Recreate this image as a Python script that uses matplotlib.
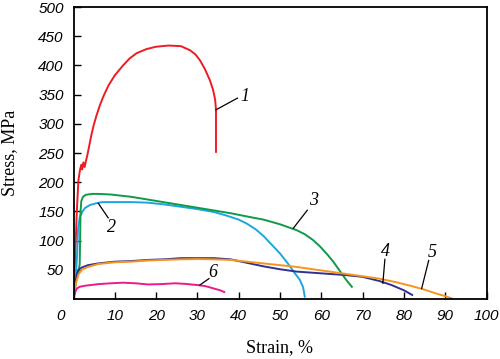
import matplotlib
matplotlib.use("Agg")
import matplotlib.pyplot as plt
import matplotlib.transforms as mtransforms

# curve data (strain %, stress MPa)
x1 = [0, 0.4, 0.8, 1.2, 1.6, 1.9, 2.1, 2.4, 2.7, 3.0, 3.4, 3.8, 4.3, 4.9, 5.6, 6.4, 7.3, 8.5, 10, 12, 13.6, 15.3, 17.7, 20, 23, 26, 28.2, 29.5, 30.6, 31.8, 33, 33.8, 34.3, 34.5, 34.5]
y1 = [0, 70, 150, 204, 222, 230, 222, 234, 226, 236, 248, 262, 280, 298, 315, 332, 348, 366, 383, 400, 412, 421, 428, 432, 434, 433, 426, 419, 409, 394, 375, 358, 341, 324, 252]

x2 = [0, 0.5, 0.9, 1.1, 1.5, 2.2, 2.8, 4, 5.5, 7, 10, 14, 18, 22, 26, 30, 34, 37, 40, 42, 44, 46, 48, 50, 52, 53.5, 54.8, 55.6, 56]
y2 = [0, 30, 80, 120, 140, 150, 156, 161, 164, 166, 166, 166, 165, 162, 158, 154, 149, 143, 136, 129, 120, 108, 93, 78, 60, 45, 33, 20, 4]

x3 = [0, 0.6, 1.2, 1.5, 1.6, 1.7, 1.9, 2.3, 3, 4.5, 6, 9, 14, 20, 26, 32, 38, 43, 46, 50, 52, 54, 56, 58, 59.7, 61.5, 63, 64.5, 66, 67.4]
y3 = [0, 30, 45, 60, 100, 150, 168, 175, 178.5, 180, 180, 179, 175, 168, 161, 154, 147, 140, 136, 128, 123, 118, 111, 101, 90, 76, 63, 48, 33, 21]

x4 = [0, 0.4, 0.8, 1.2, 2, 3.5, 6, 10, 14, 18, 22, 26, 30, 34, 38, 42, 46, 50, 54, 58, 62, 66, 70, 74, 77, 80, 82]
y4 = [0, 25, 42, 50, 54, 58, 61, 64, 65, 67, 68, 70, 70, 70, 68, 62, 56, 51, 47, 45, 43, 41, 38, 31, 24, 15, 7]

x5 = [0, 0.3, 0.7, 1.2, 2, 3.5, 6, 10, 14, 18, 22, 26, 30, 34, 38, 42, 46, 50, 54, 58, 62, 66, 70, 74, 78, 82, 85, 88, 90, 91.6]
y5 = [0, 15, 30, 42, 50, 55, 60, 63, 64, 66, 67, 68, 68.5, 68, 67, 64, 61, 58, 55, 51, 47, 43, 39, 35, 29, 22, 16, 9, 5, 1]

x6 = [0, 0.3, 0.8, 1.5, 3, 6, 9, 12, 15, 18, 21, 24.6, 27, 30, 32, 34, 35.5, 36.5]
y6 = [0, 10, 18, 21, 23, 25.5, 27, 28, 27, 25, 25.5, 27, 26, 24, 22, 18, 15, 12]

series = [(x1, y1, "#ed1c24"), (x2, y2, "#1ba6e1"), (x3, y3, "#10994a"),
          (x4, y4, "#2e3192"), (x5, y5, "#f7941d"), (x6, y6, "#ec1a8c")]

# curve labels: text, text position, leader start, leader end
labels = ["1", "2", "3", "4", "5", "6"]
label_pos = [(41.6, 347), (9.3, 122), (58.0, 168), (75.6, 82), (86.9, 80), (33.8, 45)]
leader_from = [(34.5, 324), (6.0, 164), (53.2, 121), (74.9, 27), (84.3, 18), (30.6, 24)]
leader_to = [(39.7, 344), (8.4, 139), (56.6, 152), (75.4, 68), (86.0, 66), (32.8, 35)]

xticks = list(range(0, 101, 10))
yticks = list(range(50, 501, 50))

fig = plt.figure(figsize=(5, 3.59), dpi=100)
ax = fig.add_axes([0.147, 0.167, 0.826, 0.8135])

for xs, ys, c in series:
    ax.plot(xs, ys, color=c, lw=1.4, solid_joinstyle="round")

for t, p, a, b in zip(labels, label_pos, leader_from, leader_to):
    ax.plot([a[0], b[0]], [a[1], b[1]], color="black", lw=0.9)
    ax.text(p[0], p[1], t, fontsize=13, family="Liberation Serif", style="italic",
            ha="center", va="center")

ax.set_xlim(0, 100)
ax.set_ylim(0, 500)
ax.set_xticks(xticks)
ax.set_yticks(yticks)
ax.set_xticklabels([str(v) for v in xticks], family="Liberation Sans", style="italic", fontsize=11)
ax.set_yticklabels([str(v) for v in yticks], family="Liberation Sans", style="italic", fontsize=11)
ax.tick_params(direction="in", length=5, width=1, pad=7, colors="black")

# the "0" at the origin sits a bit to the left
lbl = ax.get_xticklabels()[0]
lbl.set_transform(lbl.get_transform() + mtransforms.ScaledTranslation(-0.13, 0, fig.dpi_scale_trans))

for s in ax.spines.values():
    s.set_linewidth(1.3)

ax.set_xlabel("Strain, %", family="Liberation Serif", fontsize=13, labelpad=12)
ax.set_ylabel("Stress, MPa", family="Liberation Serif", fontsize=13)
ax.yaxis.set_label_coords(-0.135, 0.5)

fig.savefig("out.png", dpi=100)
